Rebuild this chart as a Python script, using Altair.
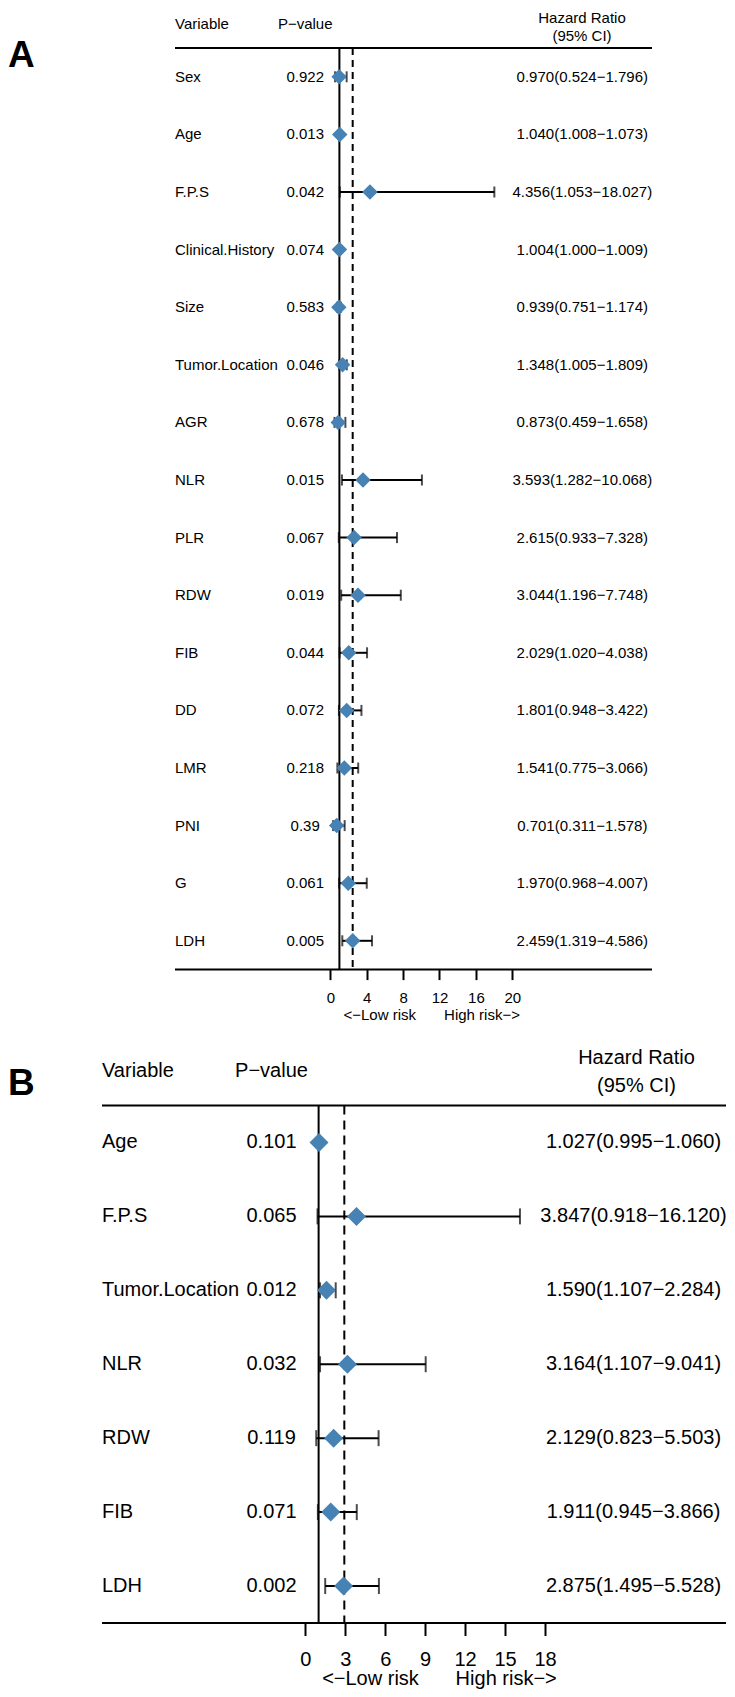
import altair as alt
import pandas as pd

FONT = "Liberation Sans"
BLUE = "#4682B4"
MINUS = "\u2212"

# ---------------- Panel A data ----------------
a_vars = ["Sex", "Age", "F.P.S", "Clinical.History", "Size", "Tumor.Location", "AGR",
          "NLR", "PLR", "RDW", "FIB", "DD", "LMR", "PNI", "G", "LDH"]
a_p = ["0.922", "0.013", "0.042", "0.074", "0.583", "0.046", "0.678", "0.015",
       "0.067", "0.019", "0.044", "0.072", "0.218", "0.39", "0.061", "0.005"]
a_hr = [0.970, 1.040, 4.356, 1.004, 0.939, 1.348, 0.873, 3.593,
        2.615, 3.044, 2.029, 1.801, 1.541, 0.701, 1.970, 2.459]
a_lo = [0.524, 1.008, 1.053, 1.000, 0.751, 1.005, 0.459, 1.282,
        0.933, 1.196, 1.020, 0.948, 0.775, 0.311, 0.968, 1.319]
a_hi = [1.796, 1.073, 18.027, 1.009, 1.174, 1.809, 1.658, 10.068,
        7.328, 7.748, 4.038, 3.422, 3.066, 1.578, 4.007, 4.586]
a_ticks = [0, 4, 8, 12, 16, 20]
a_ref = 1
a_dash = 2.46

# ---------------- Panel B data ----------------
b_vars = ["Age", "F.P.S", "Tumor.Location", "NLR", "RDW", "FIB", "LDH"]
b_p = ["0.101", "0.065", "0.012", "0.032", "0.119", "0.071", "0.002"]
b_hr = [1.027, 3.847, 1.590, 3.164, 2.129, 1.911, 2.875]
b_lo = [0.995, 0.918, 1.107, 1.107, 0.823, 0.945, 1.495]
b_hi = [1.060, 16.120, 2.284, 9.041, 5.503, 3.866, 5.528]
b_ticks = [0, 3, 6, 9, 12, 15, 18]
b_ref = 1
b_dash = 2.93

OX = 102  # common page x of both plot origins (vconcat aligns origins)


def make_df(vars_, p, hr, lo, hi):
    return pd.DataFrame({
        "var": vars_, "p": p, "hr": hr, "lo": lo, "hi": hi,
        "label": [f"{h:.3f}({l:.3f}{MINUS}{u:.3f})" for h, l, u in zip(hr, lo, hi)],
    })


def one(t=""):
    return pd.DataFrame({"t": [t]})


def panel(df, ticks, ref, dash, L):
    ox, oy = OX, L["oy"]
    W, H, fs = L["x1"] - OX, L["H"], L["fs"]

    def tx(x):
        return x - ox

    def ty(y):
        return y - oy

    def label(txt, x, y, size=fs, align="left", bold=False):
        return alt.Chart(one(txt)).mark_text(
            align=align, baseline="middle", fontSize=size, font=FONT,
            fontWeight="bold" if bold else "normal", color="black"
        ).encode(x=alt.value(tx(x)), y=alt.value(ty(y)), text="t:N")

    xscale = alt.Scale(domain=[ticks[0], ticks[-1]],
                       range=[tx(L["xa"]), tx(L["xb"])], zero=False, nice=False)
    ax = alt.Axis(values=ticks, title=None, domain=False, grid=False,
                  tickSize=L["tick"], tickWidth=2, tickColor="black",
                  labelFontSize=fs, labelFont=FONT, labelColor="black",
                  labelPadding=L["lpad"], labelFlush=False, labelOverlap=False,
                  labelBaseline="middle", format="d")
    yscale = alt.Scale(domain=list(df["var"]), paddingInner=0, paddingOuter=0)
    Y = alt.Y("var:N", scale=yscale, axis=None)

    base = alt.Chart(df)

    err = base.mark_rule(strokeWidth=2, color="black").encode(
        x=alt.X("lo:Q", scale=xscale, axis=ax), x2="hi:Q", y=Y)
    cap_lo = base.mark_tick(orient="vertical", size=L["cap"], thickness=2, color="black").encode(
        x=alt.X("lo:Q", scale=xscale, axis=ax), y=Y)
    cap_hi = base.mark_tick(orient="vertical", size=L["cap"], thickness=2, color="black").encode(
        x=alt.X("hi:Q", scale=xscale, axis=ax), y=Y)
    pts = base.mark_point(shape="diamond", filled=True, size=L["dsize"], color=BLUE, opacity=1).encode(
        x=alt.X("hr:Q", scale=xscale, axis=ax), y=Y)

    names = base.mark_text(align="left", baseline="middle", fontSize=fs, font=FONT, color="black").encode(
        x=alt.value(tx(L["x0"])), y=Y, text="var:N")
    pv = base.mark_text(align="center", baseline="middle", fontSize=fs, font=FONT, color="black").encode(
        x=alt.value(tx(L["p_cx"])), y=Y, text="p:N")
    hrt = base.mark_text(align="center", baseline="middle", fontSize=fs, font=FONT, color="black").encode(
        x=alt.value(tx(L["hrv_cx"])), y=Y, text="label:N")

    vsolid = alt.Chart(one()).mark_rule(strokeWidth=2, color="black").encode(
        x=alt.X(datum=ref, scale=xscale, axis=ax))
    vdash = alt.Chart(one()).mark_rule(strokeWidth=2, color="black", strokeDash=L["dash"]).encode(
        x=alt.X(datum=dash, scale=xscale, axis=ax))
    top = alt.Chart(one()).mark_rule(strokeWidth=2, color="black").encode(
        x=alt.value(tx(L["x0"])), x2=alt.value(W), y=alt.value(0))
    bot = alt.Chart(one()).mark_rule(strokeWidth=2, color="black").encode(
        x=alt.value(tx(L["x0"])), x2=alt.value(W), y=alt.value(H))
    # invisible spacer fixing the top edge of the panel's layout bounds
    edge = alt.Chart(one()).mark_rule(strokeWidth=1, opacity=0).encode(
        x=alt.value(tx(L["x0"])), x2=alt.value(tx(L["x0"]) + 10), y=alt.value(ty(L["top_edge"])))

    texts = [
        label(L["letter"], 8, L["letter_y"], size=37, bold=True),
        label("Variable", L["x0"], L["hdr_y"]),
        label("P" + MINUS + "value", L["p_cx"], L["hdr_y"], align="center"),
        label("Hazard Ratio", L["hr_cx"], L["hr1_y"], align="center"),
        label("(95% CI)", L["hr_cx"], L["hr2_y"], align="center"),
        label("<" + MINUS + "Low risk", L["low_cx"], L["risk_y"], align="center"),
        label("High risk" + MINUS + ">", L["high_cx"], L["risk_y"], align="center"),
    ]

    return alt.layer(edge, vsolid, vdash, top, bot, err, cap_lo, cap_hi, pts, names, pv, hrt, *texts
                     ).properties(width=W, height=H,
                                  view=alt.ViewBackground(stroke=None, strokeWidth=0, fill=None))


LA = dict(oy=47.7, H=921.6, fs=15, x0=175, x1=652, top_edge=8.5,
          xa=330.3, xb=512.3, tick=10, lpad=18.3, cap=11, dsize=240, dash=[7, 5],
          p_cx=305.2, hrv_cx=582.3, hdr_y=23.5,
          hr_cx=582, hr1_y=17.2, hr2_y=35.3, letter="A", letter_y=55.25,
          low_cx=379.7, high_cx=482, risk_y=1014.9)
LB = dict(oy=1103.5, H=517.5, fs=20, x0=102, x1=726, top_edge=1044.5,
          xa=305.3, xb=545, tick=12.5, lpad=23.7, cap=16, dsize=361, dash=[9, 6],
          p_cx=271.5, hrv_cx=633.5, hdr_y=1068.9,
          hr_cx=636.5, hr1_y=1055.5, hr2_y=1083.5, letter="B", letter_y=1082.25,
          low_cx=370.5, high_cx=506.2, risk_y=1677.2)

pa = panel(make_df(a_vars, a_p, a_hr, a_lo, a_hi), a_ticks, a_ref, a_dash, LA)
pb = panel(make_df(b_vars, b_p, b_hr, b_lo, b_hi), b_ticks, b_ref, b_dash, LB)

chart = alt.vconcat(pa, pb, spacing=22.5).properties(padding=0).configure_view(
    strokeWidth=0, strokeOpacity=0).configure(font=FONT)

chart.save("out.html", embed_options={"renderer": "svg", "actions": False})
